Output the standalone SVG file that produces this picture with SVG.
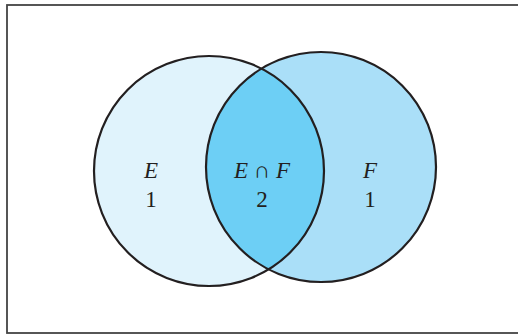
<svg xmlns="http://www.w3.org/2000/svg" width="518" height="334" viewBox="0 0 518 334">
  <style>
    .lbl { font-family: "Liberation Serif", "Times New Roman", serif; font-size: 23px; fill: #231f20; text-anchor: middle; }
    .it { font-style: italic; }
    .ring { fill: none; stroke: #231f20; stroke-width: 2.2; }
  </style>
  <defs>
    <clipPath id="clipE"><circle cx="209" cy="171" r="115"/></clipPath>
  </defs>
  <rect x="7" y="5" width="520" height="328" fill="#ffffff" stroke="#444444" stroke-width="1.8"/>
  <g id="E">
    <circle cx="209" cy="171" r="115" fill="#e0f3fc"/>
  </g>
  <g id="F">
    <circle cx="321" cy="167" r="115" fill="#aadff8"/>
  </g>
  <g id="EF">
    <circle cx="321" cy="167" r="115" fill="#6dcff5" clip-path="url(#clipE)"/>
  </g>
  <g id="outlines">
    <circle class="ring" cx="209" cy="171" r="115"/>
    <circle class="ring" cx="321" cy="167" r="115"/>
  </g>
  <g id="labels">
    <text class="lbl it" x="151" y="178">E</text>
    <text class="lbl" x="151" y="207">1</text>
    <text class="lbl" x="262" y="178"><tspan class="it">E</tspan> ∩ <tspan class="it">F</tspan></text>
    <text class="lbl" x="262" y="207">2</text>
    <text class="lbl it" x="370" y="178">F</text>
    <text class="lbl" x="370" y="207">1</text>
  </g>
</svg>
